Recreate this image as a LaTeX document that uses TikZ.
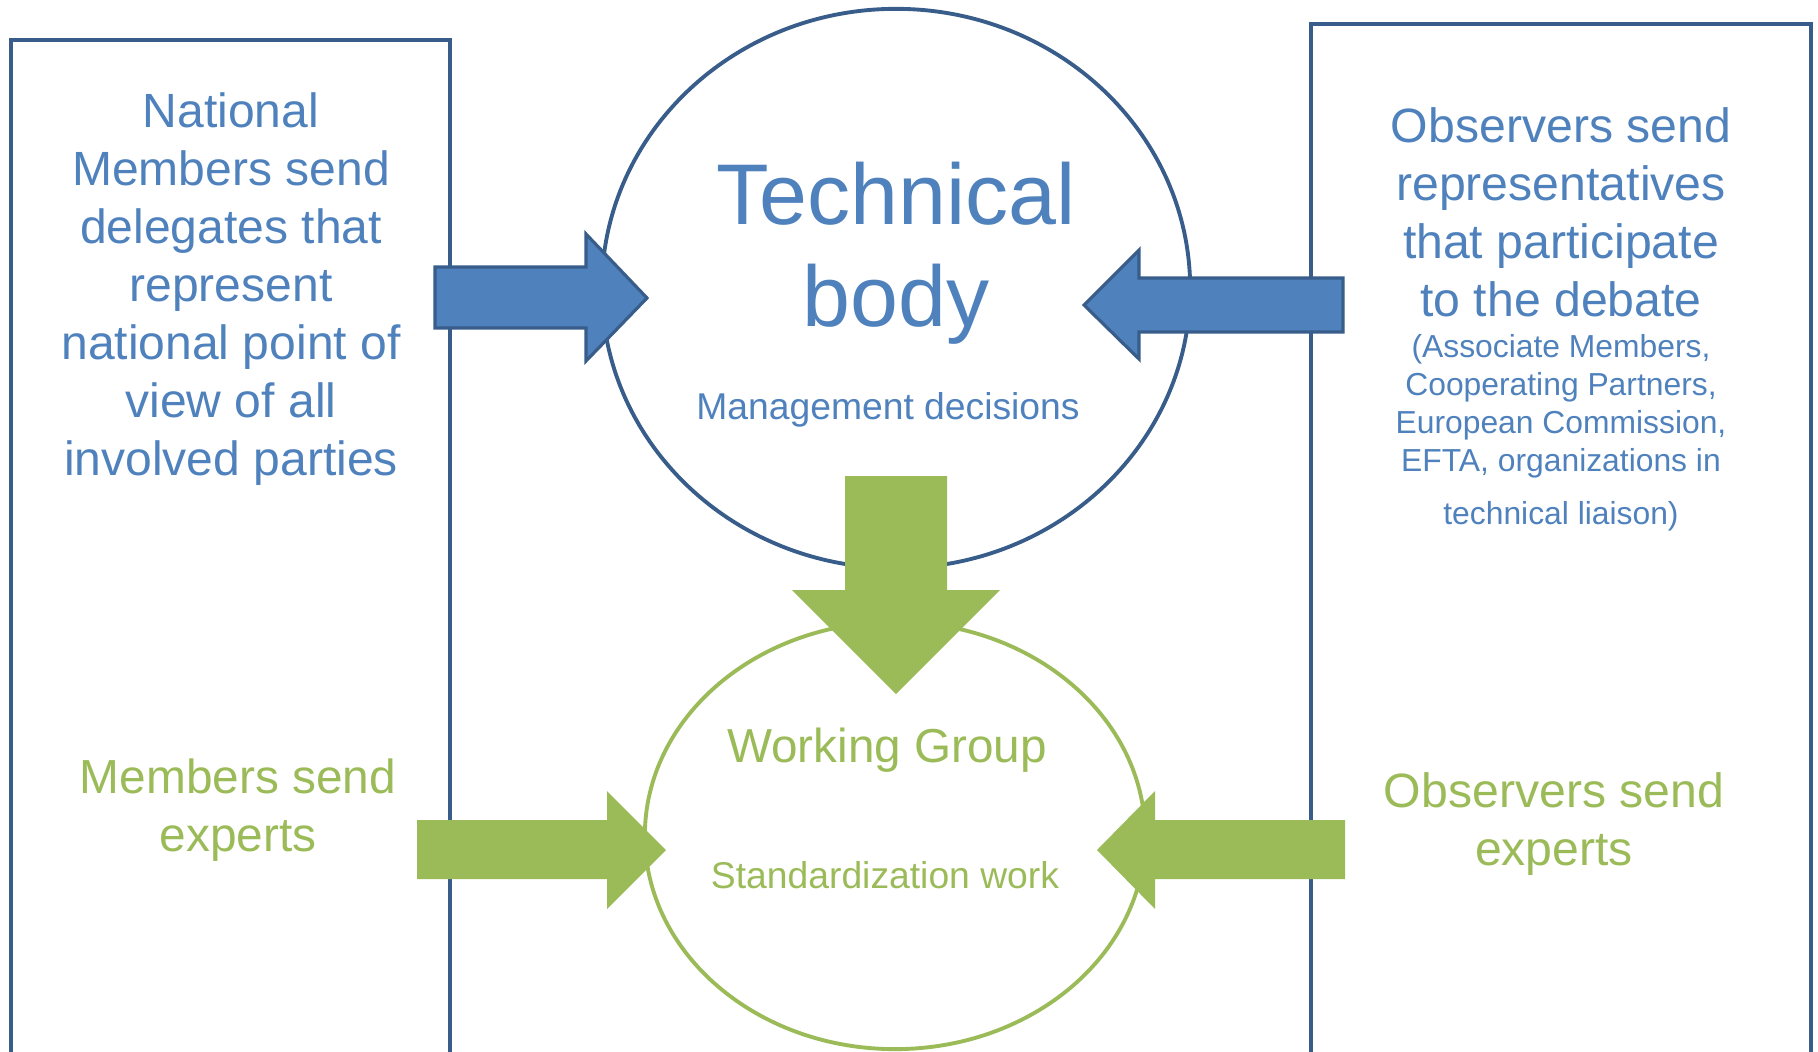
\documentclass[tikz,border=0pt]{standalone}
\usepackage{fontspec}
\setmainfont{Liberation Sans}
\usepackage{tikz}
\usetikzlibrary{shapes.geometric}

\definecolor{txtblue}{HTML}{4F81BD}
\definecolor{lineblue}{HTML}{385D8A}
\definecolor{wggreen}{HTML}{9BBB59}

\begin{document}
\begin{tikzpicture}[x=0.01cm,y=-0.01cm,semithick]
\tikzstyle{panel}=[draw=lineblue,line width=1.15pt,rectangle,inner sep=0pt]
\tikzstyle{body}=[ellipse,inner sep=0pt]
\tikzstyle{bluetxt}=[text=txtblue,align=center,inner sep=0pt]
\tikzstyle{greentxt}=[text=wggreen,align=center,inner sep=0pt]
\tikzstyle{bluearrow}=[fill=txtblue,draw=lineblue,line width=0.9pt,line join=miter]
\tikzstyle{greenarrow}=[fill=wggreen]
\useasboundingbox (0,0) rectangle (1818,1051);
\clip (0,0) rectangle (1818,1051);

% side panels
\node[panel,minimum width=4.39cm,minimum height=10.6cm] (NM) at (230.5,570) {};
\node[panel,minimum width=5cm,minimum height=10.76cm] (OB) at (1561,562) {};

% technical body and working group
\node[body,draw=lineblue,line width=1.1pt,minimum width=5.88cm,minimum height=5.59cm] (TB) at (896,288.5) {};
\node[body,draw=wggreen,line width=1.1pt,minimum width=5cm,minimum height=4.27cm] (WG) at (895,835.5) {};

% block arrows
\draw[bluearrow] (435,267) -- (586,267) -- (586,234) -- (647,298)
      -- (586,361) -- (586,328) -- (435,328) -- cycle;
\draw[bluearrow] (1343,278) -- (1139,278) -- (1139,250) -- (1084,305)
      -- (1139,359) -- (1139,332) -- (1343,332) -- cycle;
\fill[greenarrow] (845,476) -- (947,476) -- (947,590) -- (1000,590)
      -- (896,694) -- (792,590) -- (845,590) -- cycle;
\fill[greenarrow] (417,820) -- (607,820) -- (607,791) -- (666,850)
      -- (607,909) -- (607,879) -- (417,879) -- cycle;
\fill[greenarrow] (1345,820) -- (1155,820) -- (1155,791) -- (1097,850)
      -- (1155,909) -- (1155,879) -- (1345,879) -- cycle;

% texts
\node[bluetxt,font=\fontsize{13.66}{16.5}\selectfont] (NMT) at (231,289)
  {National\\Members send\\delegates that\\represent\\national point of\\view of all\\involved parties};
\node[bluetxt,font=\fontsize{24.5}{29}\selectfont] (TBT) at (896,253) {Technical\\body};
\node[bluetxt,font=\fontsize{10.6}{12.6}\selectfont] (TBM) at (888,410) {Management decisions};
\node[bluetxt,font=\fontsize{13.7}{16.5}\selectfont] (OBT) at (1561,212)
  {Observers send\\representatives\\that participate\\to the debate};
\node[bluetxt,font=\fontsize{9.05}{10.8}\selectfont] (OBS) at (1561,433)
  {(Associate Members,\\Cooperating Partners,\\European Commission,\\EFTA, organizations in\\[4.3pt]technical liaison)};
\node[greentxt,font=\fontsize{13.55}{16.5}\selectfont] (WGT) at (887,750) {Working Group};
\node[greentxt,font=\fontsize{10.6}{12.4}\selectfont] (WGS) at (885,875) {Standardization work};
\node[greentxt,font=\fontsize{13.6}{16.5}\selectfont] (MSE) at (238,810) {Members send\\experts};
\node[greentxt,font=\fontsize{13.7}{16.5}\selectfont] (OSE) at (1554,824) {Observers send\\experts};
\end{tikzpicture}
\end{document}
